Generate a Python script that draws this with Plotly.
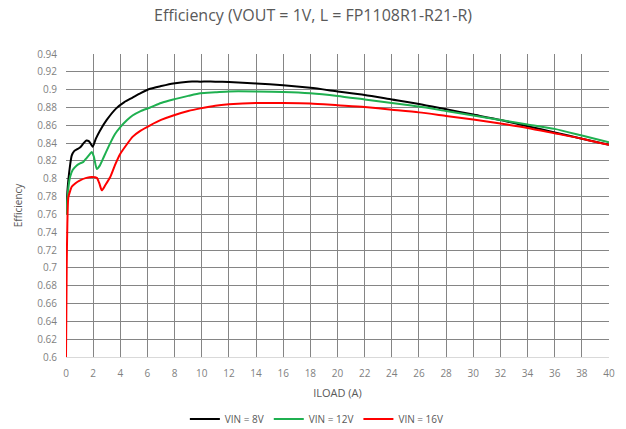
import plotly.graph_objects as go

# Data
iload_8v = [0.05, 0.1, 0.17, 0.3, 0.42, 0.6, 0.8, 1.03, 1.3, 1.5, 1.7, 1.97, 2.2, 2.5, 3.0, 3.7, 4.3, 4.9, 5.5, 6.2, 7.0, 7.9, 9.0, 9.9, 11, 12, 14, 16, 18, 20, 22, 24, 26, 28, 30, 32, 34, 36, 38, 40]
eff_8v = [0.77, 0.785, 0.798, 0.815, 0.826, 0.831, 0.833, 0.835, 0.840, 0.843, 0.842, 0.836, 0.845, 0.854, 0.866, 0.879, 0.886, 0.891, 0.896, 0.901, 0.904, 0.907, 0.909, 0.909, 0.909, 0.9085, 0.907, 0.905, 0.902, 0.898, 0.894, 0.889, 0.884, 0.878, 0.872, 0.866, 0.859, 0.852, 0.845, 0.838]

iload_12v = [0.05, 0.1, 0.3, 0.5, 0.79, 1.0, 1.28, 1.5, 1.77, 1.9, 2.05, 2.27, 2.5, 2.8, 3.26, 3.6, 4.0, 4.5, 4.9, 5.5, 6.2, 7.0, 7.9, 9.0, 9.9, 11, 12, 14, 16, 18, 20, 22, 24, 26, 28, 30, 32, 34, 36, 38, 40]
eff_12v = [0.76, 0.778, 0.802, 0.81, 0.815, 0.817, 0.819, 0.823, 0.828, 0.830, 0.825, 0.811, 0.815, 0.825, 0.840, 0.850, 0.858, 0.866, 0.871, 0.876, 0.880, 0.885, 0.889, 0.893, 0.896, 0.897, 0.898, 0.898, 0.8975, 0.896, 0.893, 0.889, 0.885, 0.881, 0.876, 0.871, 0.866, 0.861, 0.856, 0.8485, 0.841]

iload_16v = [0.0, 0.05, 0.1, 0.17, 0.3, 0.42, 0.7, 1.0, 1.5, 1.9, 2.27, 2.45, 2.64, 2.9, 3.26, 3.6, 4.0, 4.5, 4.9, 5.5, 6.2, 7.0, 7.9, 9.0, 9.9, 11, 12, 14, 16, 18, 20, 22, 24, 26, 28, 30, 32, 34, 36, 38, 40]
eff_16v = [0.60, 0.70, 0.75, 0.779, 0.786, 0.791, 0.795, 0.798, 0.801, 0.802, 0.801, 0.795, 0.787, 0.793, 0.802, 0.815, 0.828, 0.839, 0.847, 0.854, 0.860, 0.866, 0.871, 0.876, 0.879, 0.882, 0.8835, 0.885, 0.885, 0.8845, 0.8825, 0.8805, 0.8775, 0.8745, 0.8705, 0.8665, 0.862, 0.857, 0.851, 0.845, 0.838]

series = [
    ("VIN = 8V", iload_8v, eff_8v, "#000000"),
    ("VIN = 12V", iload_12v, eff_12v, "#1fb050"),
    ("VIN = 16V", iload_16v, eff_16v, "#ff0000"),
]

x_ticks = list(range(0, 41, 2))
y_ticks = [round(0.6 + 0.02 * i, 2) for i in range(18)]
y_ticktext = [("%g" % v) for v in y_ticks]

fig = go.Figure()
for name, x, y, color in series:
    fig.add_trace(go.Scatter(x=x, y=y, mode="lines", name=name,
                             line=dict(color=color, width=2, shape="spline", smoothing=0.6)))

fig.update_layout(
    width=626, height=429,
    margin=dict(l=66, r=17, t=54, b=72, autoexpand=False),
    plot_bgcolor="white", paper_bgcolor="white",
    font=dict(family="Open Sans, Arial, sans-serif", color="#595959", size=10),
    title=dict(text="Efficiency (VOUT = 1V, L = FP1108R1-R21-R)", x=0.5, xanchor="center",
               y=0.965, yanchor="middle", font=dict(size=16, color="#595959")),
    xaxis=dict(range=[0, 40], tickvals=x_ticks, showgrid=True, gridcolor="#858585", gridwidth=1.2,
               zeroline=False, showline=True, linecolor="#d9d9d9", linewidth=1,
               ticks="outside", ticklen=7, tickcolor="rgba(0,0,0,0)", automargin=False,
               tickfont=dict(size=10, color="#7f7f7f"),
               title=dict(text="ILOAD (A)", font=dict(size=11, color="#595959"), standoff=10)),
    yaxis=dict(range=[0.6, 0.94], tickvals=y_ticks, ticktext=y_ticktext, showgrid=True,
               gridcolor="#858585", gridwidth=1.2, zeroline=False, showline=False,
               ticks="outside", ticklen=6, tickcolor="rgba(0,0,0,0)", automargin=False,
               tickfont=dict(size=10, color="#7f7f7f"),
               title=dict(text="Efficiency", font=dict(size=10, color="#595959"), standoff=12)),
    legend=dict(orientation="h", x=0.462, xanchor="center", y=-0.205, yanchor="middle",
                font=dict(size=10, color="#595959"), itemwidth=30, tracegroupgap=0),
    showlegend=True,
)

fig.write_html("out.html", config={"displayModeBar": False},
               post_script="document.body.style.margin='0';")
